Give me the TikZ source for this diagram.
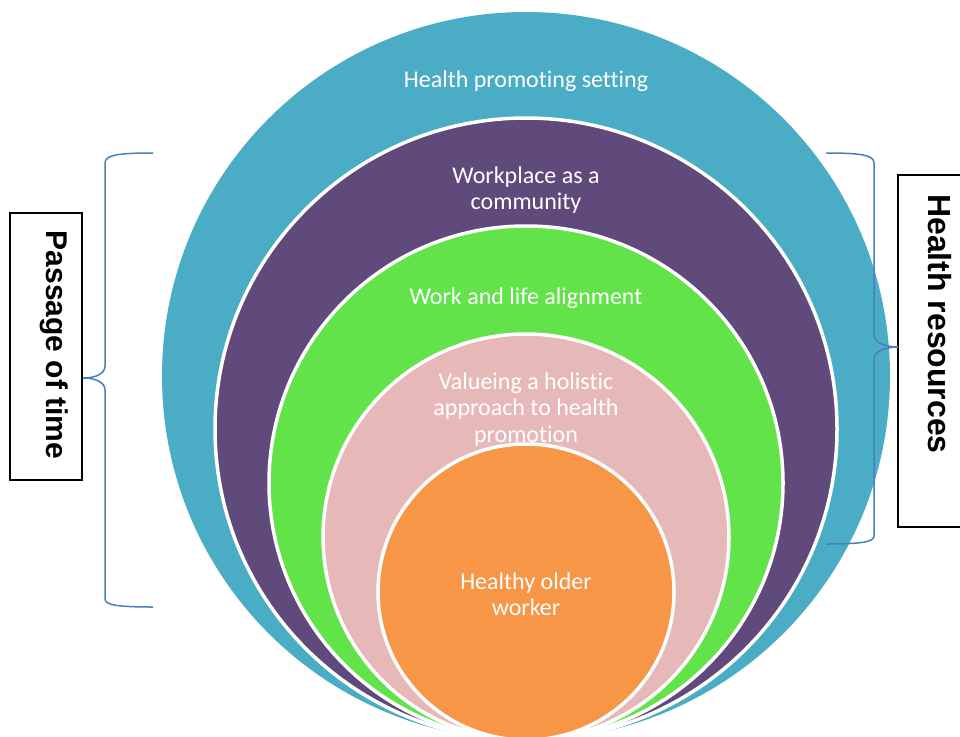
\documentclass[tikz,border=0pt]{standalone}
\usepackage{fontspec}
\setmainfont[Ligatures=NoCommon]{Carlito}
\newfontfamily\arialfont{Liberation Sans}
\usetikzlibrary{positioning}
\definecolor{tealring}{RGB}{75,172,198}
\definecolor{purplering}{RGB}{96,74,123}
\definecolor{greenring}{RGB}{98,227,74}
\definecolor{pinkring}{RGB}{230,185,184}
\definecolor{orangering}{RGB}{247,150,70}
\definecolor{bracket}{RGB}{74,126,187}
\tikzset{
  ring/.style={circle,inner sep=0pt,draw=white,line width=3.5pt},
  ringtext/.style={text=white,align=center,inner sep=0pt,font=\fontsize{24}{26.5}\selectfont},
  sidebox/.style={draw=black,line width=1.2pt,fill=white,inner sep=0pt},
  sidetext/.style={rotate=-90,inner sep=0pt,font=\arialfont\bfseries\fontsize{30}{34}\selectfont},
  brace/.style={line width=1.5pt,draw=bracket}
}

\begin{document}
\begin{tikzpicture}[x=1pt,y=-1pt]
  \useasboundingbox (0,0) rectangle (960,736);
  % nested rings, all touching at the bottom
  \node[ring,draw=none,fill=tealring,minimum size=728pt] (setting) at (526,376) {};
  \node[ring,fill=purplering,minimum size=622pt] (community) at (526,429) {};
  \node[ring,fill=greenring,minimum size=514pt] (alignment) at (526,483) {};
  \node[ring,fill=pinkring,minimum size=406pt] (holistic) at (526,537) {};
  \node[ring,fill=orangering,minimum size=296pt] (worker) at (526,592) {};
  \node[ringtext,below=60pt of setting.north] (settinglbl) {Health promoting setting};
  \node[ringtext,below=50pt of community.north] (communitylbl) {Workplace as a\\community};
  \node[ringtext,below=63pt of alignment.north] (alignmentlbl) {Work and life alignment};
  \node[ringtext,below=40pt of holistic.north] (holisticlbl) {Valueing a holistic\\approach to health\\promotion};
  \node[ringtext,below=130pt of worker.north] (workerlbl) {Healthy older\\worker};
  % side labels
  \node[sidebox,minimum width=72pt,minimum height=267pt] (timebox) at (46,346.5) {};
  \node[sidetext] (timetxt) at (54,345) {Passage of time};
  \node[sidebox,minimum width=82pt,minimum height=352pt] (resbox) at (939,351) {};
  \node[sidetext,font=\arialfont\bfseries\fontsize{32}{36}\selectfont] (restxt) at (940,324) {Health resources};
  % braces
  \draw[brace] (153,153) .. controls (118,153) and (105,155) .. (105,163) -- (105,366)
    .. controls (105,374) and (95,378) .. (83,378) .. controls (95,378) and (105,382) .. (105,390)
    -- (105,599) .. controls (105,605) and (118,607) .. (153,607);
  \draw[brace] (826,153) .. controls (861,153) and (874,155) .. (874,163) -- (874,335)
    .. controls (874,343) and (886,347) .. (898,347) .. controls (886,347) and (874,351) .. (874,359)
    -- (874,536) .. controls (874,542) and (861,544) .. (826,544);
\end{tikzpicture}
\end{document}
